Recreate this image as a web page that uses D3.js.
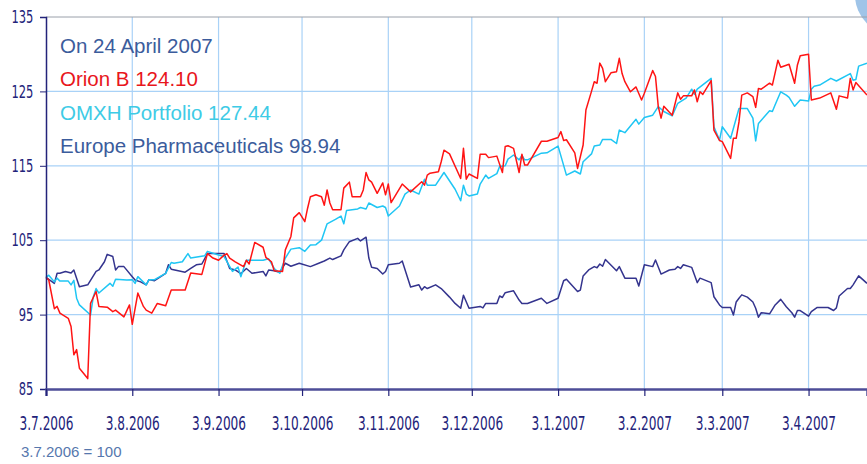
<!DOCTYPE html>
<html>
<head>
<meta charset="utf-8">
<script src="https://cdn.jsdelivr.net/npm/d3@7"></script>
<style>
  body { margin: 0; background: #fff; }
  svg { display: block; }
</style>
</head>
<body>
<div id="chart"></div>
<script>
// axis data
const startDate = "2006-07-03";
const endDate = "2007-04-24";
const monthTicks = ["2006-07-03", "2006-08-03", "2006-09-03", "2006-10-03", "2006-11-03",
  "2006-12-03", "2007-01-03", "2007-02-03", "2007-03-03", "2007-04-03"];
const yTicks = [85, 95, 105, 115, 125, 135];

// legend
const legendLines = ["On 24 April 2007", "Orion B 124.10", "OMXH Portfolio 127.44", "Europe Pharmaceuticals 98.94"];
const footnote = "3.7.2006 = 100";

// series: days since 3.7.2006 and index value
const orionDays = [0, 1, 3, 4, 5, 6, 8, 9, 10, 11, 12, 15, 16, 18, 19, 22, 24, 25, 28, 30, 31, 33, 35, 36, 38, 40, 43, 45, 50, 52,
  56, 58, 60, 62, 64, 65, 66, 68, 71, 72, 73, 75, 78, 79, 81, 82, 85, 86, 88, 89, 91, 93, 94, 95, 97, 99, 100, 101, 102, 103,
  106, 107, 109, 110, 113, 114, 115, 116, 117, 119, 121, 122, 123, 124, 126, 128, 131, 135, 136, 137, 138, 141, 142, 143, 145, 149, 150, 151, 152, 155,
  156, 158, 159, 162, 164, 165, 166, 168, 170, 171, 172, 173, 178, 180, 184, 185, 186, 187, 190, 191, 193, 194, 196, 197, 198, 199, 200, 201, 203, 205,
  206, 207, 208, 210, 212, 214, 215, 218, 219, 220, 221, 222, 225, 227, 228, 229, 232, 233, 234, 235, 236, 239, 240, 242, 243, 246, 247, 248, 249, 250,
  252, 254, 255, 256, 257, 260, 261, 263, 264, 267, 269, 270, 271, 274, 275, 278, 282, 284, 285, 288, 289, 290, 291, 295];
const orionValues = [100, 99.65, 95.8, 96.1, 95.2, 94.95, 94.5, 93.4, 89.6, 90.3, 87.8, 86.4, 96.5, 98.1, 96.1, 96.0, 95.4, 95.6, 94.7, 96.3, 93.7, 97.9, 96.1, 95.6, 95.2, 96.5, 96.2, 98.3, 98.3, 100.6,
  100.4, 103.2, 102.6, 102.3, 103.0, 103.2, 102.6, 102.1, 101.45, 102.3, 101.8, 104.7, 104.05, 102.7, 102.1, 100.9, 100.8, 103.7, 105.5, 108.0, 108.7, 107.5, 109.3, 110.85, 111.1, 110.85, 109.7, 111.75, 110.0, 109.1,
  109.1, 112.0, 112.8, 110.85, 110.85, 111.75, 114.1, 113.1, 112.8, 111.3, 112.7, 111.1, 112.55, 110.05, 111.3, 112.55, 111.5, 112.85, 112.4, 113.75, 114.0, 114.2, 115.55, 117.1, 116.6, 113.3, 117.35, 113.2, 113.9, 113.3,
  116.55, 116.55, 116.1, 116.3, 114.1, 117.6, 117.7, 117.35, 114.1, 116.55, 115.1, 115.1, 118.3, 118.3, 118.8, 119.6, 118.4, 118.5, 116.75, 114.65, 117.8, 122.5, 125.0, 126.3, 126.1, 128.8, 128.1, 126.3, 127.5, 127.65,
  129.45, 127.4, 126.3, 124.95, 125.6, 123.85, 124.75, 127.8, 127.0, 122.95, 121.4, 123.0, 121.8, 124.8, 123.95, 124.4, 124.4, 125.2, 123.6, 124.95, 124.6, 126.45, 119.8, 118.4, 118.25, 116.0, 118.7, 118.7, 120.9, 124.5,
  124.8, 124.3, 122.85, 125.4, 125.3, 126.1, 125.85, 129.2, 128.25, 128.65, 126.1, 128.55, 129.8, 130.0, 123.85, 124.1, 124.8, 122.6, 124.4, 124.1, 126.75, 125.2, 126.2, 124.5];

const omxhDays = [0, 1, 3, 4, 5, 8, 9, 10, 11, 12, 16, 17, 18, 19, 23, 24, 25, 29, 31, 32, 33, 36, 37, 39, 43, 45, 46, 49, 51, 52,
  57, 58, 62, 64, 67, 69, 70, 72, 74, 78, 80, 82, 84, 86, 88, 91, 93, 95, 97, 99, 100, 101, 104, 106, 107, 108, 112, 113, 115, 116,
  119, 121, 122, 123, 127, 129, 131, 134, 136, 137, 140, 143, 147, 149, 150, 151, 152, 155, 156, 158, 159, 162, 163, 165, 166, 168, 170, 171, 172, 173,
  178, 180, 184, 187, 190, 192, 193, 196, 197, 199, 200, 203, 205, 206, 208, 210, 212, 213, 215, 218, 220, 222, 225, 227, 230, 232, 233, 234, 239, 240,
  242, 243, 246, 249, 252, 254, 255, 256, 260, 261, 262, 264, 266, 267, 269, 271, 274, 275, 276, 278, 282, 284, 289, 290, 291, 292, 295];
const omxhValues = [100, 100.3, 99.4, 99.9, 99.5, 99.5, 99.0, 99.6, 97.2, 96.3, 94.95, 97.4, 98.5, 97.9, 99.2, 98.8, 99.75, 99.65, 99.7, 99.2, 100.1, 99.0, 99.7, 99.7, 100.55, 102.0, 101.9, 102.1, 103.2, 102.6,
  102.9, 103.5, 103.0, 102.8, 100.8, 101.4, 100.1, 102.3, 102.3, 102.3, 102.5, 101.2, 100.55, 102.6, 103.8, 104.0, 103.5, 104.35, 104.4, 105.0, 106.1, 107.2, 107.8, 108.25, 107.2, 109.0, 109.2, 109.4, 109.2, 110.0,
  109.4, 109.6, 109.4, 108.25, 109.6, 111.2, 111.75, 111.2, 113.2, 112.4, 112.4, 114.1, 111.85, 110.3, 112.4, 111.2, 110.95, 111.2, 112.55, 113.75, 113.3, 113.95, 114.9, 115.0, 115.9, 116.45, 115.8, 116.4, 115.8, 115.8,
  116.7, 116.75, 117.65, 113.75, 114.3, 113.9, 115.55, 116.6, 117.65, 117.8, 118.55, 118.55, 118.0, 119.8, 119.45, 120.35, 121.25, 120.6, 121.5, 121.8, 122.95, 122.3, 121.7, 123.4, 124.1, 125.3, 124.6, 125.3, 126.75, 120.25,
  118.45, 120.25, 118.7, 122.7, 122.7, 121.4, 118.35, 120.7, 122.4, 122.3, 123.2, 124.95, 124.5, 124.2, 123.0, 123.85, 123.7, 125.3, 125.7, 125.85, 126.75, 126.4, 127.4, 126.5, 126.6, 128.4, 128.8];

const pharmaDays = [0, 3, 4, 5, 7, 9, 10, 12, 15, 18, 19, 21, 22, 24, 25, 26, 28, 31, 32, 34, 36, 37, 39, 43, 44, 45, 50, 52, 54, 56,
  58, 64, 66, 68, 70, 72, 74, 78, 79, 80, 82, 84, 86, 88, 91, 95, 98, 100, 102, 103, 106, 107, 109, 112, 113, 115, 116, 117, 119, 121,
  122, 123, 127, 128, 131, 134, 135, 136, 137, 140, 142, 145, 147, 149, 150, 152, 156, 157, 158, 162, 163, 164, 165, 168, 170, 171, 173, 178, 180, 184,
  186, 187, 191, 192, 193, 195, 197, 198, 199, 200, 201, 205, 206, 208, 212, 213, 215, 218, 219, 221, 224, 226, 227, 228, 229, 232, 234, 235, 239, 240,
  242, 243, 246, 247, 248, 249, 250, 252, 254, 255, 256, 257, 260, 262, 264, 266, 268, 269, 270, 271, 274, 275, 277, 281, 283, 284, 285, 288, 289, 290, 292, 295];
const pharmaValues = [100, 99.2, 100.55, 100.55, 100.8, 100.6, 101.0, 98.75, 99.0, 100.8, 101.0, 102.1, 103.1, 102.8, 101.0, 101.45, 101.45, 100.1, 99.65, 99.4, 99.0, 99.7, 99.55, 100.55, 101.7, 101.1, 100.7, 101.2, 101.7, 101.8,
  103.2, 103.2, 101.2, 101.0, 100.5, 101.2, 100.55, 100.8, 100.2, 101.0, 100.9, 100.7, 101.9, 101.5, 101.9, 101.45, 101.9, 102.2, 102.6, 102.4, 102.9, 103.7, 104.8, 105.25, 104.9, 105.4, 102.6, 101.35, 101.2, 100.45,
  100.8, 101.7, 101.9, 102.2, 98.7, 99.0, 98.3, 98.75, 98.5, 99.0, 98.5, 97.35, 96.5, 95.85, 97.6, 95.85, 96.1, 95.9, 96.5, 96.5, 97.5, 97.3, 97.95, 98.2, 96.95, 96.5, 96.5, 97.2, 96.5, 97.2,
  99.55, 99.75, 98.1, 98.3, 100.2, 101.0, 101.45, 101.3, 101.8, 101.5, 102.4, 100.9, 101.45, 99.9, 99.9, 98.85, 101.7, 101.45, 102.35, 100.45, 101.0, 101.1, 101.45, 101.2, 101.7, 101.35, 99.3, 99.9, 99.3, 97.4,
  96.3, 95.95, 95.95, 94.95, 96.7, 97.2, 97.65, 97.35, 96.7, 95.85, 94.65, 95.25, 95.1, 96.3, 97.05, 96.05, 95.25, 94.65, 95.55, 95.55, 94.8, 95.4, 95.95, 95.95, 95.55, 95.9, 97.5, 98.5, 98.5, 99.0, 100.2, 99.2];

// chart size
const W = 867, H = 464;
const margin = { top: 17, right: 0, bottom: 75, left: 46 };

const parse = d3.timeParse("%Y-%m-%d");
const base = parse(startDate);

const x = d3.scaleTime()
  .domain([base, parse(endDate)])
  .range([margin.left, W - margin.right]);
const y = d3.scaleLinear()
  .domain([85, 135])
  .range([H - margin.bottom, margin.top]);

const svg = d3.select("#chart").append("svg")
  .attr("width", W)
  .attr("height", H);

// corner decoration
svg.append("circle")
  .attr("cx", 895).attr("cy", -5).attr("r", 40)
  .attr("fill", "#9fc4e8");

const gridColor = "#a9d2f7";

// horizontal grid
svg.append("g")
  .selectAll("line")
  .data(yTicks.filter(d => d > 85 && d < 135))
  .join("line")
  .attr("x1", margin.left).attr("x2", W)
  .attr("y1", d => y(d)).attr("y2", d => y(d))
  .attr("stroke", gridColor).attr("stroke-width", 1.2);

// vertical grid
svg.append("g")
  .selectAll("line")
  .data(monthTicks.slice(1).map(parse))
  .join("line")
  .attr("x1", d => x(d)).attr("x2", d => x(d))
  .attr("y1", y(135)).attr("y2", y(85))
  .attr("stroke", gridColor).attr("stroke-width", 1.2);

// top border
svg.append("line")
  .attr("x1", margin.left).attr("x2", W)
  .attr("y1", y(135)).attr("y2", y(135))
  .attr("stroke", "#9aa0aa").attr("stroke-width", 1);

// legend
const legendColors = ["#3b5c9c", "#e8161c", "#3ecbe6", "#3b5c9c"];
svg.append("g")
  .selectAll("text")
  .data(legendLines)
  .join("text")
  .attr("x", 60)
  .attr("y", (d, i) => 53 + i * 33.3)
  .attr("fill", (d, i) => legendColors[i])
  .style("font-family", "'Liberation Sans', Arial, sans-serif")
  .style("font-size", "20.5px")
  .text(d => d);

// lines
const line = d3.line()
  .x(d => x(d3.timeDay.offset(base, d[0])))
  .y(d => y(d[1]));

const series = [
  { days: pharmaDays, values: pharmaValues, color: "#34348e" },
  { days: omxhDays, values: omxhValues, color: "#1fc6f4" },
  { days: orionDays, values: orionValues, color: "#ff1414" }
];

series.forEach(s => {
  svg.append("path")
    .datum(d3.zip(s.days, s.values))
    .attr("fill", "none")
    .attr("stroke", s.color)
    .attr("stroke-width", 1.5)
    .attr("stroke-linejoin", "round")
    .attr("d", line);
});

// narrow tick labels: condensed font squeezed horizontally
const axisFont = "'DejaVu Sans Condensed', 'Liberation Sans Narrow', sans-serif";
const squeeze = 0.71;
const navy = "#23237a";

// y axis
svg.append("g")
  .attr("transform", `translate(${margin.left},0)`)
  .call(d3.axisLeft(y).tickValues(yTicks).tickSize(6).tickPadding(7))
  .call(g => g.select(".domain").attr("stroke", navy).attr("stroke-width", 1.5))
  .call(g => g.selectAll(".tick line").attr("stroke", navy))
  .call(g => g.selectAll(".tick text")
    .attr("x", -12.7 / squeeze)
    .attr("transform", `scale(${squeeze},1)`)
    .attr("fill", navy)
    .style("font-family", axisFont)
    .style("font-size", "18px"));

// x axis
svg.append("g")
  .attr("transform", `translate(0,${y(85)})`)
  .call(d3.axisBottom(x)
    .tickValues(monthTicks.map(parse))
    .tickFormat(d3.timeFormat("%-d.%-m.%Y"))
    .tickSize(7).tickPadding(21))
  .call(g => g.select(".domain").attr("stroke", "#4d4d98").attr("stroke-width", 2.5))
  .call(g => g.selectAll(".tick line").attr("stroke", navy).attr("stroke-width", 1.2))
  .call(g => g.selectAll(".tick text")
    .attr("transform", `scale(${squeeze},1)`)
    .attr("fill", navy)
    .style("font-family", axisFont)
    .style("font-size", "19px"));

// footnote
svg.append("text")
  .attr("x", 21)
  .attr("y", 457)
  .attr("fill", "#5677ad")
  .style("font-family", "'Liberation Sans', Arial, sans-serif")
  .style("font-size", "15px")
  .text(footnote);
</script>
</body>
</html>
